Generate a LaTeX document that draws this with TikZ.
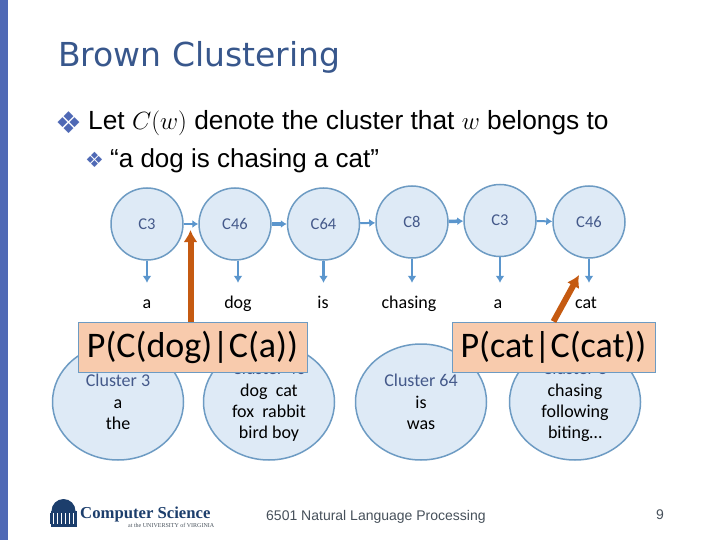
\documentclass[tikz,border=0pt]{standalone}
\usepackage{fontspec}
\setmainfont{Carlito}
\newfontfamily\slidefont{Liberation Sans}
\newfontfamily\titlefont{DejaVu Sans}
\newfontfamily\logofont{Liberation Serif}
\usetikzlibrary{positioning,arrows.meta,shapes.geometric,calc}
\definecolor{barC}{RGB}{79,105,181}
\definecolor{titleC}{RGB}{56,87,140}
\definecolor{nodeC}{RGB}{222,234,246}
\definecolor{edgeC}{RGB}{109,155,195}
\definecolor{flowC}{RGB}{91,150,205}
\definecolor{labelC}{RGB}{68,89,138}
\definecolor{probC}{RGB}{248,203,173}
\definecolor{pointC}{RGB}{197,90,17}
\definecolor{logoC}{RGB}{28,62,108}
\definecolor{footC}{RGB}{70,80,90}
\newcommand{\sz}[1]{\fontsize{#1}{#1}\selectfont}
\tikzset{
	state/.style={circle, draw=edgeC, fill=nodeC, line width=1.5pt, minimum size=72pt,
		inner sep=0pt, text=labelC, font=\sz{16.5}},
	word/.style={minimum height=40pt, inner sep=0pt, text height=14pt, text depth=4pt, font=\sz{18}},
	cluster/.style={ellipse, draw=edgeC, fill=nodeC, line width=1.5pt, minimum width=131pt,
		minimum height=116pt, inner sep=0pt, align=center, font=\fontsize{18}{21.3}\selectfont},
	prob/.style={draw=edgeC, fill=probC, line width=1pt, minimum height=50pt, inner sep=0pt,
		font=\sz{36}},
	thinflow/.style={-{Latex[length=6pt,width=8pt]}, line width=2pt, flowC},
	thickflow/.style={-{Latex[length=6pt,width=8pt]}, line width=3.5pt, flowC},
	emit/.style={-{Latex[length=7pt,width=9pt]}, line width=2.5pt, flowC},
	pointer/.style={-{Latex[length=12pt,width=14pt]}, line width=6pt, pointC},
	bullet/.style={anchor=base west, inner sep=0pt, text=barC},
	textline/.style={anchor=base west, inner sep=0pt, font=\slidefont\sz{26}},
	footer/.style={anchor=base west, inner sep=0pt, text=footC},
	% ----- Icons -----
	pics/rotunda/.style={code={
			\fill[logoC] (-12,8) arc[start angle=180, end angle=360, radius=12] -- cycle;
			\fill[logoC] (-13,8) rectangle (13,10);
			\fill[logoC] (-13,21) rectangle (13,24);
			\foreach \x in {-12,-8,-4,0,4,8,12}
			\fill[logoC] (\x-1.2,10) rectangle (\x+1.2,21);
	}},
}
\begin{document}
\begin{tikzpicture}[x=1pt,y=-1pt]
		\useasboundingbox (0,0) rectangle (720,540);
		\fill[barC] (0,0) rectangle (8,540);
		
		% ================= Title and bullets =================
		\node[anchor=base west, inner sep=0pt, text=titleC, font=\titlefont\sz{33}] (title) at (58,67) {Brown Clustering};
		\node[bullet, font=\titlefont\bfseries\sz{30}] (b1) at (55,134) {❖};
		\node[textline, font=\slidefont\sz{26.3}] (l1) at (88,130) {Let $C(w)$ denote the cluster that $w$ belongs to};
		\node[bullet, font=\titlefont\sz{21}] (b2) at (85,168) {❖};
		\node[textline] (l2) at (110,168) {“a dog is chasing a cat”};
		
		% ================= Cluster chain =================
		\node[state] (c1) at (147,224) {C3};
		\node[state] (c2) at (235,224) {C46};
		\node[state] (c3) at (323.5,224) {C64};
		\node[state] (c4) at (412,222) {C8};
		\node[state] (c5) at (500,220.5) {C3};
		\node[state] (c6) at (589,222) {C46};
		
		\draw[thinflow] (c1) -- (c2);
		\draw[thickflow] (c2) -- (c3);
		\draw[thinflow] (c3) -- (c4);
		\draw[thickflow] (c4) -- (c5);
		\draw[thinflow] (c5) -- (c6);
		
		% ================= Words =================
		\node[word] (w1) at (147,303) {a};
		\node[word] (w2) at (238,303) {dog};
		\node[word] (w3) at (323,303) {is};
		\node[word] (w4) at (409,303) {chasing};
		\node[word] (w5) at (498,303) {a};
		\node[word] (w6) at (586,303) {cat};
		
		\draw[emit] (c1.south) -- (c1.south |- w1.north);
		\draw[emit] ($(c2.south)+(3,0)$) -- (w2.north);
		\draw[emit] (c3.south) -- (c3.south |- w3.north);
		\draw[emit] (c4.south) -- (c4.south |- w4.north);
		\draw[emit] (c5.south) -- (c5.south |- w5.north);
		\draw[emit] (c6.south) -- (c6.south |- w6.north);
		
		% ================= Clusters =================
		\node[cluster] (k1) at (118,402) {\textcolor{labelC}{Cluster 3}\\a\\the};
		\node[cluster] (k2) at (269,402) {\textcolor{labelC}{Cluster 46}\\dog\ \ cat\\fox\ \ rabbit\\bird boy};
		\node[cluster] (k3) at (421,402) {\textcolor{labelC}{Cluster 64}\\is\\was};
		\node[cluster] (k4) at (575,402) {\textcolor{labelC}{Cluster 8}\\chasing\\following\\biting…};
		
		% ================= Probabilities =================
		\coordinate (tipA) at (190.5,230);
		\coordinate (tipB) at (579,275);
		\node[prob, minimum width=229pt] (pa) at (192.5,347) {P(C(dog)|C(a))};
		\node[prob, minimum width=203pt] (pb) at (553.5,347) {P(cat|C(cat))};
		\draw[pointer] (pa.north -| tipA) -- (tipA);
		\draw[pointer] (pb.north) -- (tipB);
		
		% ================= Footer =================
		\pic at (63.5,503) {rotunda};
		\node[footer, text=logoC, font=\logofont\bfseries\sz{16.7}] (cs) at (80,518) {Computer Science};
		\node[footer, font=\logofont\sz{6}] (uva) at (128,527) {at the UNIVERSITY of VIRGINIA};
		\node[footer, font=\slidefont\sz{14}] (foot) at (266,520) {6501 Natural Language Processing};
		\node[footer, font=\slidefont\sz{14}] (page) at (656,519) {9};
		
	\end{tikzpicture}
\end{document}
